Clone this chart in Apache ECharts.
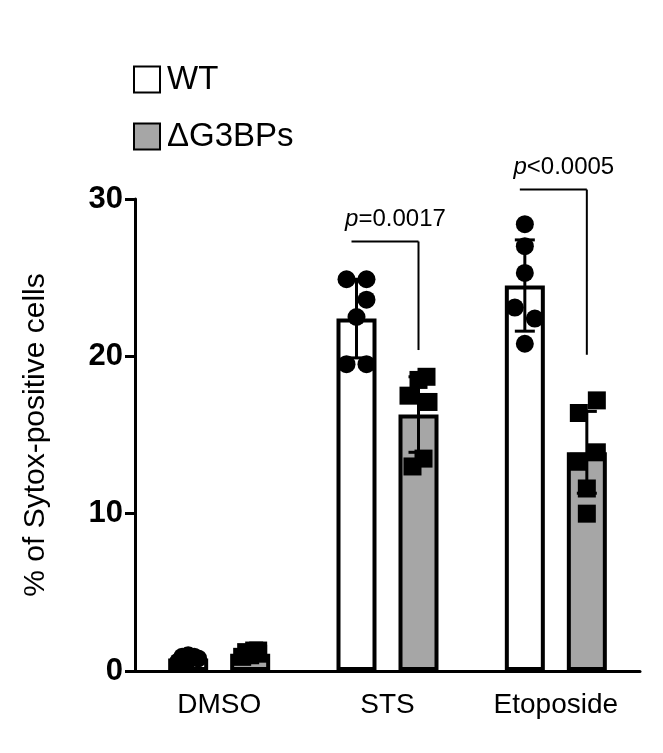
<!DOCTYPE html>
<html><head><meta charset="utf-8">
<script src="https://cdn.jsdelivr.net/npm/echarts@6/dist/echarts.min.js"></script>
<style>html,body{margin:0;background:#fff}#c{width:663px;height:753px}</style>
</head><body><div id="c"></div>
<script>
var categories = ['DMSO', 'STS', 'Etoposide'];
var wtMean = [0.8, 22.4, 24.5];
var wtSd = [0.2, 2.5, 2.9];
var koMean = [1.1, 16.3, 13.9];
var koSd = [0.2, 2.4, 2.6];
var wtPoints = [
  [0.6, 0.7, 0.8, 0.9, 0.9, 1.0],
  [24.9, 24.9, 23.6, 22.5, 19.5, 19.5],
  [28.4, 27.0, 25.3, 23.1, 22.4, 20.8]
];
var koPoints = [
  [0.9, 1.0, 1.1, 1.2, 1.3, 1.3],
  [18.7, 18.5, 17.5, 17.1, 13.5, 13.0],
  [17.2, 16.4, 13.9, 13.3, 11.6, 10.0]
];
// horizontal jitter of the dots, px
var wtJitter = [[-10, 0, 10, -6, 6, 0], [-10, 10, 10, 0, -10, 10], [0, 0, 0, -10, 10, 0]];
var koJitter = [[-8, 0, 8, -4, 4, 8], [8, 0, -10, 10, 5, -6], [10, -8, 10, -8, 0, 0]];
var pValues = ['', '=0.0017', '<0.0005'];
var bracketTop = [0, 27.3, 30.6];
var bracketRightEnd = [0, 20.4, 20.1];

var chart = echarts.init(document.getElementById('c'));
var OFF = 31;
var FONT = 'Liberation Sans';

function dotSeries(points, jitter, off, shape) {
  var data = [];
  points.forEach(function (arr, i) {
    arr.forEach(function (v, j) { data.push([i, v, jitter[i][j]]); });
  });
  return {
    type: 'custom', data: data, z: 5, clip: false,
    renderItem: function (params, api) {
      var p = api.coord([api.value(0), api.value(1)]);
      var x = p[0] + off + api.value(2);
      if (shape === 'circle') {
        return { type: 'circle', shape: { cx: x, cy: p[1], r: 9 }, style: { fill: '#000' } };
      }
      return { type: 'rect', shape: { x: x - 9, y: p[1] - 9, width: 18, height: 18 }, style: { fill: '#000' } };
    }
  };
}

function errSeries(mean, sd, off) {
  return {
    type: 'custom', z: 6, clip: false,
    data: mean.map(function (m, i) { return [i, m, sd[i]]; }),
    renderItem: function (params, api) {
      var m = api.value(1), s = api.value(2);
      var hi = api.coord([api.value(0), m + s]);
      var lo = api.coord([api.value(0), m - s]);
      var x = hi[0] + off;
      var st = { stroke: '#000', lineWidth: 3 };
      return { type: 'group', children: [
        { type: 'line', shape: { x1: x, y1: hi[1], x2: x, y2: lo[1] }, style: st },
        { type: 'line', shape: { x1: x - 10, y1: hi[1], x2: x + 10, y2: hi[1] }, style: st },
        { type: 'line', shape: { x1: x - 10, y1: lo[1], x2: x + 10, y2: lo[1] }, style: st }
      ]};
    }
  };
}

chart.setOption({
  animation: false,
  legend: {
    orient: 'vertical', left: 128, top: 58, itemWidth: 26, itemHeight: 26, itemGap: 24,
    icon: 'rect',
    textStyle: { fontSize: 33, color: '#000', fontFamily: FONT, padding: [0, 0, 0, 2] },
    data: ['WT', 'ΔG3BPs']
  },
  grid: { left: 135, right: 23, top: 199, bottom: 82 },
  xAxis: {
    type: 'category', data: categories,
    axisLine: { lineStyle: { color: '#000', width: 3 } },
    axisTick: { show: false },
    axisLabel: { fontSize: 28, color: '#000', margin: 20, fontFamily: FONT }
  },
  yAxis: {
    type: 'value', min: 0, max: 30, interval: 10,
    name: '% of Sytox-positive cells', nameLocation: 'middle', nameGap: 84,
    nameTextStyle: { fontSize: 30, color: '#000', fontFamily: FONT },
    axisLine: { show: true, lineStyle: { color: '#000', width: 3 } },
    axisTick: { show: true, length: 10, lineStyle: { width: 3, color: '#000' } },
    splitLine: { show: false },
    axisLabel: { fontSize: 31, color: '#000', fontWeight: 'bold', margin: 12, fontFamily: FONT }
  },
  series: [
    { name: 'WT', type: 'bar', data: wtMean, barWidth: 40, barGap: '55%',
      itemStyle: { color: '#fff', borderColor: '#000', borderWidth: 4 } },
    { name: 'ΔG3BPs', type: 'bar', data: koMean, barWidth: 40,
      itemStyle: { color: '#a6a6a6', borderColor: '#000', borderWidth: 4 } },
    errSeries(wtMean, wtSd, -OFF),
    errSeries(koMean, koSd, OFF),
    dotSeries(wtPoints, wtJitter, -OFF, 'circle'),
    dotSeries(koPoints, koJitter, OFF, 'square'),
    {
      type: 'custom', z: 7, clip: false,
      data: pValues.map(function (t, i) { return [i, bracketTop[i], bracketRightEnd[i]]; }),
      renderItem: function (params, api) {
        var i = api.value(0);
        if (!pValues[i]) return null;
        var top = api.coord([i, api.value(1)]);
        var re = api.coord([i, api.value(2)]);
        var xl = top[0] - OFF - 5, xr = top[0] + OFF;
        var st = { stroke: '#000', lineWidth: 2 };
        return { type: 'group', children: [
          { type: 'line', shape: { x1: xl, y1: top[1], x2: xr, y2: top[1] }, style: st },
          { type: 'line', shape: { x1: xr, y1: top[1], x2: xr, y2: re[1] }, style: st },
          { type: 'text', style: { x: top[0] + 8, y: top[1] - 10, text: '{i|p}' + pValues[i],
            fontSize: 24, fontFamily: FONT, fill: '#000', align: 'center', verticalAlign: 'bottom',
            rich: { i: { fontStyle: 'italic', fontSize: 24, fontFamily: FONT } } } }
        ]};
      }
    }
  ]
});
window.addEventListener('resize', function () { chart.resize(); });
</script></body></html>
